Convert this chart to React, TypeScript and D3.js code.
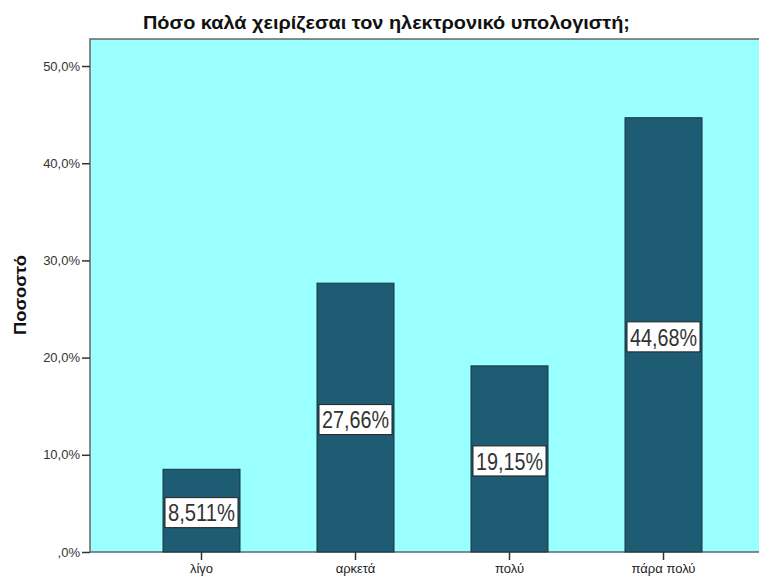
import React, { useRef, useEffect } from 'react';
import * as d3 from 'd3';

// Chart data
const categories = ['λίγο', 'αρκετά', 'πολύ', 'πάρα πολύ'];
const percents = [8.511, 27.66, 19.15, 44.68];
const valueLabels = ['8,511%', '27,66%', '19,15%', '44,68%'];
const yTicks = [0, 10, 20, 30, 40, 50];
const yTickLabels = [',0%', '10,0%', '20,0%', '30,0%', '40,0%', '50,0%'];

const chartTitle = 'Πόσο καλά χειρίζεσαι τον ηλεκτρονικό υπολογιστή;';
const yTitle = 'Ποσοστό';

const W = 759;
const H = 578;

const App = () => {
  const svgRef = useRef<SVGSVGElement | null>(null);

  useEffect(() => {
    const svg = d3.select(svgRef.current);
    svg.selectAll('*').remove();

    const plot = { left: 90, right: 762, top: 39, bottom: 552 };

    const x = d3
      .scaleBand()
      .domain(categories)
      .range([124.5, 740.5])
      .paddingInner(0.5)
      .paddingOuter(0.25);

    const y = d3
      .scaleLinear()
      .domain([0, 52.78])
      .range([plot.bottom, plot.top]);

    const font = 'Arial, "Liberation Sans", sans-serif';

    // background
    svg
      .append('rect')
      .attr('x', plot.left)
      .attr('y', plot.top)
      .attr('width', plot.right - plot.left)
      .attr('height', plot.bottom - plot.top)
      .attr('fill', '#99ffff')
      .attr('stroke', '#666')
      .attr('stroke-width', 1.5);

    // bars
    svg
      .append('g')
      .selectAll('rect')
      .data(percents)
      .enter()
      .append('rect')
      .attr('x', (d, i) => x(categories[i])!)
      .attr('y', (d) => y(d))
      .attr('width', x.bandwidth())
      .attr('height', (d) => plot.bottom - y(d))
      .attr('fill', '#1d5c73')
      .attr('stroke', '#1a3440')
      .attr('stroke-width', 1);

    // value labels (boxed, at half bar height)
    const lab = svg
      .append('g')
      .selectAll('g')
      .data(percents)
      .enter()
      .append('g')
      .attr(
        'transform',
        (d, i) => `translate(${x(categories[i])! + x.bandwidth() / 2}, ${y(d / 2) + 2})`
      );

    lab
      .append('rect')
      .attr('x', -36.5)
      .attr('y', -15)
      .attr('width', 73)
      .attr('height', 30)
      .attr('fill', '#fff')
      .attr('stroke', '#222')
      .attr('stroke-width', 1);

    lab
      .append('text')
      .attr('text-anchor', 'middle')
      .attr('dy', '0.36em')
      .attr('font-family', font)
      .attr('font-size', 24)
      .attr('textLength', 67)
      .attr('lengthAdjust', 'spacingAndGlyphs')
      .attr('fill', '#333')
      .text((d, i) => valueLabels[i]);

    // y axis
    const yAxis = svg
      .append('g')
      .attr('transform', `translate(${plot.left}, 0)`)
      .call(
        d3
          .axisLeft(y)
          .tickValues(yTicks)
          .tickSize(8)
          .tickPadding(2)
          .tickFormat((d, i) => yTickLabels[i])
      );
    yAxis.select('.domain').remove();
    yAxis.selectAll('.tick line').attr('stroke', '#333').attr('stroke-width', 1.5);
    yAxis
      .selectAll('text')
      .attr('font-family', font)
      .attr('font-size', 13)
      .attr('fill', '#333');

    // x axis
    const xAxis = svg
      .append('g')
      .attr('transform', `translate(0, ${plot.bottom})`)
      .call(d3.axisBottom(x).tickSize(8).tickPadding(4));
    xAxis.select('.domain').remove();
    xAxis.selectAll('.tick line').attr('stroke', '#333').attr('stroke-width', 1.5);
    xAxis
      .selectAll('text')
      .attr('font-family', font)
      .attr('font-size', 13)
      .attr('fill', '#222');

    // title
    svg
      .append('text')
      .attr('x', 386.5)
      .attr('y', 29)
      .attr('text-anchor', 'middle')
      .attr('font-family', font)
      .attr('font-weight', 'bold')
      .attr('font-size', 18)
      .attr('textLength', 487)
      .attr('lengthAdjust', 'spacingAndGlyphs')
      .attr('fill', '#111')
      .text(chartTitle);

    // y title
    svg
      .append('text')
      .attr('transform', `translate(26, 295) rotate(-90)`)
      .attr('text-anchor', 'middle')
      .attr('font-family', font)
      .attr('font-weight', 'bold')
      .attr('font-size', 17)
      .attr('textLength', 80)
      .attr('lengthAdjust', 'spacingAndGlyphs')
      .attr('fill', '#111')
      .text(yTitle);
  }, []);

  return (
    <svg
      ref={svgRef}
      width={W}
      height={H}
      style={{ position: 'absolute', left: 0, top: 0, background: '#fff' }}
    />
  );
};

export default App;
